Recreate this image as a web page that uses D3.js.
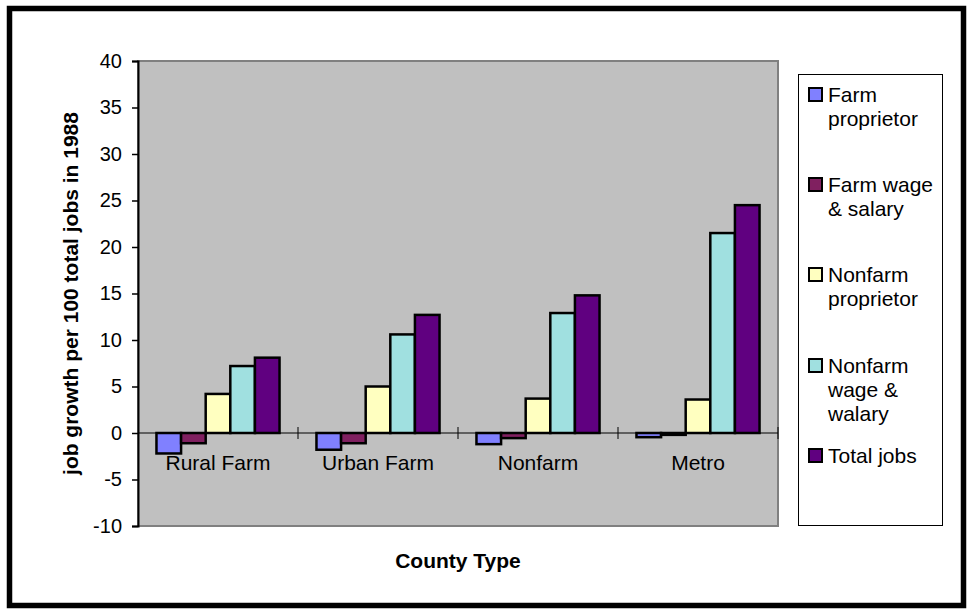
<!DOCTYPE html>
<html><head><meta charset="utf-8">
<script src="https://cdn.jsdelivr.net/npm/d3@7"></script>
<style>
html,body{margin:0;padding:0;background:#fff;}
text{font-family:"Liberation Sans",Arial,sans-serif;fill:#000;}
</style></head>
<body><svg id="c" width="971" height="616"></svg>
<script>
const categories = ["Rural Farm","Urban Farm","Nonfarm","Metro"];
const seriesNames = ["Farm proprietor","Farm wage & salary","Nonfarm proprietor","Nonfarm wage & walary","Total jobs"];
const legendLines = [["Farm","proprietor"],["Farm wage","& salary"],["Nonfarm","proprietor"],["Nonfarm","wage &","walary"],["Total jobs"]];
const farmProprietor = [-2.2,-1.8,-1.2,-0.45];
const farmWage = [-1.1,-1.1,-0.55,-0.2];
const nonfarmProprietor = [4.2,5.0,3.7,3.6];
const nonfarmWage = [7.2,10.6,12.9,21.5];
const totalJobs = [8.1,12.7,14.8,24.5];
const yTicks = [-10,-5,0,5,10,15,20,25,30,35,40];
const colors = ["#8080FF","#802060","#FFFFC0","#A0E0E0","#600080"];

const series = [farmProprietor,farmWage,nonfarmProprietor,nonfarmWage,totalJobs];
const svg = d3.select("#c");
const L=138,R=778,T=61,B=526;

// outer frame
svg.append("rect").attr("x",9.5).attr("y",8.5).attr("width",954).attr("height",597)
  .attr("fill","#fff").attr("stroke","#000").attr("stroke-width",5.5);

const x = d3.scaleBand().domain(categories).range([L,R]).padding(0);
const xi = d3.scaleBand().domain(d3.range(5)).range([0,x.bandwidth()]).paddingInner(0).paddingOuter(0.75);
const y = d3.scaleLinear().domain([-10,40]).range([B,T]);

// plot area
svg.append("rect").attr("x",L).attr("y",T).attr("width",R-L).attr("height",B-T)
  .attr("fill","#C0C0C0").attr("stroke","#808080").attr("stroke-width",2);

// bars
categories.forEach((c,ci)=>{
  series.forEach((s,si)=>{
    const v=s[ci];
    svg.append("rect")
      .attr("x",x(c)+xi(si)).attr("width",xi.bandwidth())
      .attr("y",y(Math.max(0,v))).attr("height",Math.abs(y(v)-y(0)))
      .attr("fill",colors[si]).attr("stroke","#000").attr("stroke-width",2.5);
  });
});

// zero line + category ticks
svg.append("line").attr("x1",L).attr("x2",R).attr("y1",y(0)).attr("y2",y(0)).attr("stroke","#000").attr("stroke-width",1);
categories.slice(1).concat([null]).forEach((c)=>{
  const xx = c? x(c) : R;
  svg.append("line").attr("x1",xx).attr("x2",xx).attr("y1",y(0)-6).attr("y2",y(0)+6).attr("stroke","#000").attr("stroke-width",1);
});

// y axis
const yAxis = d3.axisLeft(y).tickValues(yTicks).tickSize(6).tickPadding(10).tickFormat(d=>String(d));
const ga = svg.append("g").attr("transform",`translate(${L},0)`).call(yAxis);
ga.select(".domain").attr("stroke","#000").attr("stroke-width",2);
ga.selectAll(".tick line").attr("stroke","#000").attr("stroke-width",1.5);
ga.selectAll(".tick text").style("font-size","20px").style("font-family","'Liberation Sans',Arial,sans-serif").attr("fill","#000");

// category labels
svg.selectAll("text.cat").data(categories).enter().append("text")
  .attr("class","cat").attr("x",d=>x(d)+x.bandwidth()/2).attr("y",470)
  .attr("text-anchor","middle").style("font-size","21px").text(d=>d);

// axis titles
svg.append("text").attr("transform",`translate(78,${(T+B)/2}) rotate(-90)`)
  .attr("text-anchor","middle").style("font-size","21px").style("font-weight","bold")
  .text("job growth per 100 total jobs in 1988");
svg.append("text").attr("x",(L+R)/2).attr("y",568).attr("text-anchor","middle")
  .style("font-size","21px").style("font-weight","bold").text("County Type");

// legend
svg.append("rect").attr("x",798.5).attr("y",74.5).attr("width",144).attr("height",451)
  .attr("fill","#fff").attr("stroke","#000").attr("stroke-width",1);
const legTop=[87,177,267,358,448];
seriesNames.forEach((n,i)=>{
  svg.append("rect").attr("x",809).attr("y",legTop[i]+1).attr("width",13).attr("height",13)
    .attr("fill",colors[i]).attr("stroke","#000").attr("stroke-width",2);
  const t = svg.append("text").attr("x",828).attr("y",legTop[i]+15).style("font-size","21px");
  legendLines[i].forEach((ln,j)=>{
    t.append("tspan").attr("x",828).attr("dy",j===0?0:24).text(ln);
  });
});
</script></body></html>
